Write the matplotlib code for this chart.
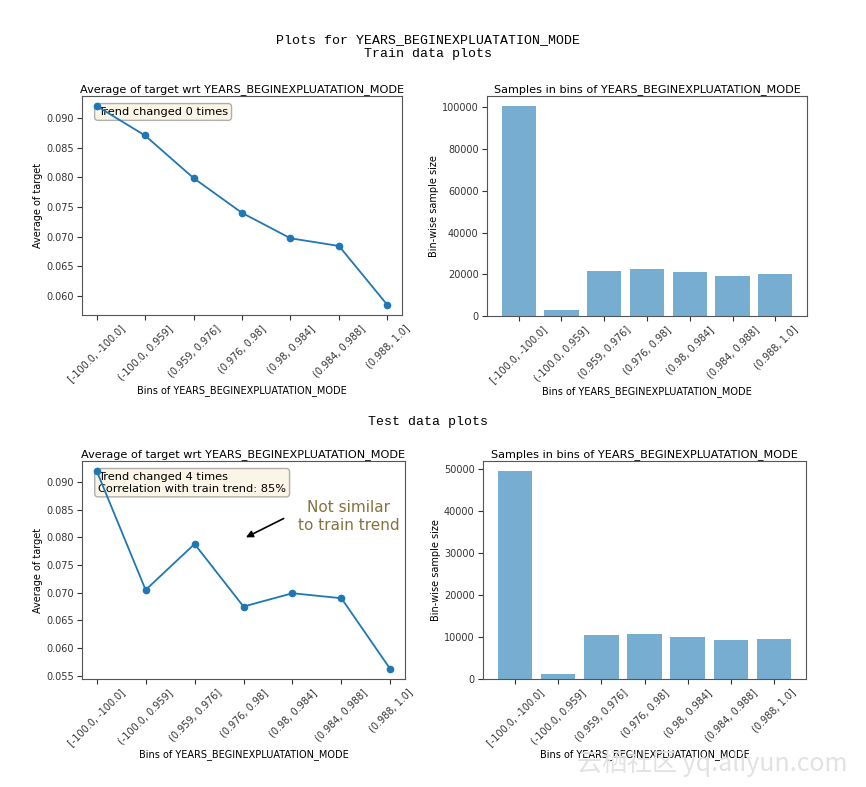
import matplotlib
matplotlib.use("Agg")
import matplotlib.pyplot as plt
import numpy as np

feature = "YEARS_BEGINEXPLUATATION_MODE"
bins = ["[-100.0, -100.0]", "(-100.0, 0.959]", "(0.959, 0.976]", "(0.976, 0.98]",
        "(0.98, 0.984]", "(0.984, 0.988]", "(0.988, 1.0]"]

train_avg = [0.0921, 0.0871, 0.0799, 0.0740, 0.0697, 0.0684, 0.0584]
train_counts = [100400, 2750, 21700, 22300, 20900, 19100, 20100]

test_avg = [0.0920, 0.0705, 0.0788, 0.0675, 0.0699, 0.0690, 0.0562]
test_counts = [49400, 1260, 10550, 10700, 10100, 9300, 9550]

fig = plt.figure(figsize=(8.66, 7.87), dpi=100)
W, H = 866, 787

def add_ax(l, t, r, b):
    return fig.add_axes([l / W, 1 - b / H, (r - l) / W, (b - t) / H])

ax_tl = add_ax(82, 96, 402, 315)
ax_tr = add_ax(487, 96, 807, 316)
ax_bl = add_ax(82, 461, 405, 679)
ax_br = add_ax(483, 461, 806, 679)

mono = "Liberation Mono"
fig.text(428 / W, 1 - 40 / H, f"Plots for {feature}", family=mono, fontsize=9.5,
         ha="center", va="center")
fig.text(428 / W, 1 - 54 / H, "Train data plots", family=mono, fontsize=9.5,
         ha="center", va="center")
fig.text(428 / W, 1 - 422 / H, "Test data plots", family=mono, fontsize=9.5,
         ha="center", va="center")

x = np.arange(len(bins))
tick_fs = 7
lab_fs = 7
title_fs = 8.1

def style(ax):
    ax.tick_params(labelsize=tick_fs, colors="#333333", pad=2.5)
    for s in ax.spines.values():
        s.set_color("#555555")
    ax.set_xticks(x)
    ax.set_xticklabels(bins, rotation=45, fontsize=tick_fs, ha="center",
                       rotation_mode="default")

def line_plot(ax, vals, text):
    ax.plot(x, vals, marker="o", color="#1f77b4", markersize=4.5, linewidth=1.3)
    ax.set_title(f"Average of target wrt {feature}", fontsize=title_fs, pad=3)
    ax.set_ylabel("Average of target", fontsize=lab_fs, labelpad=2)
    ax.set_xlabel(f"Bins of {feature}", fontsize=lab_fs, labelpad=1)
    style(ax)
    ax.text(0.05, 0.95, text, transform=ax.transAxes, fontsize=8.2, va="top",
            bbox=dict(boxstyle="round", facecolor="wheat", alpha=0.3), zorder=1)

def bar_plot(ax, vals):
    ax.bar(x, vals, color="#1f77b4", alpha=0.6)
    ax.set_title(f"Samples in bins of {feature}", fontsize=title_fs, pad=3)
    ax.set_ylabel("Bin-wise sample size", fontsize=lab_fs, labelpad=2)
    ax.set_xlabel(f"Bins of {feature}", fontsize=lab_fs, labelpad=1)
    style(ax)

line_plot(ax_tl, train_avg, "Trend changed 0 times")
bar_plot(ax_tr, train_counts)
line_plot(ax_bl, test_avg, "Trend changed 4 times\nCorrelation with train trend: 85%")
bar_plot(ax_br, test_counts)

ax_bl.yaxis.set_major_locator(matplotlib.ticker.MultipleLocator(0.005))
ax_bl.yaxis.set_major_formatter(matplotlib.ticker.FormatStrFormatter("%.3f"))
ax_tl.yaxis.set_major_formatter(matplotlib.ticker.FormatStrFormatter("%.3f"))

ax_bl.text(5.15, 0.0838, "Not similar\nto train trend", fontsize=11, color="#86723f",
           ha="center", va="center")
ax_bl.annotate("", xy=(3.05, 0.0800), xytext=(3.82, 0.0834),
               arrowprops=dict(arrowstyle="-|>", color="black", lw=1.2,
                               shrinkA=0, shrinkB=0, mutation_scale=10))

fig.text(712 / W, 1 - 763 / H, "云栖社区 yq.aliyun.com", fontsize=18, color="#e2e2e2",
         family=["Noto Sans CJK SC", "DejaVu Sans"], ha="center", va="center")

fig.savefig("out.png", dpi=100)
